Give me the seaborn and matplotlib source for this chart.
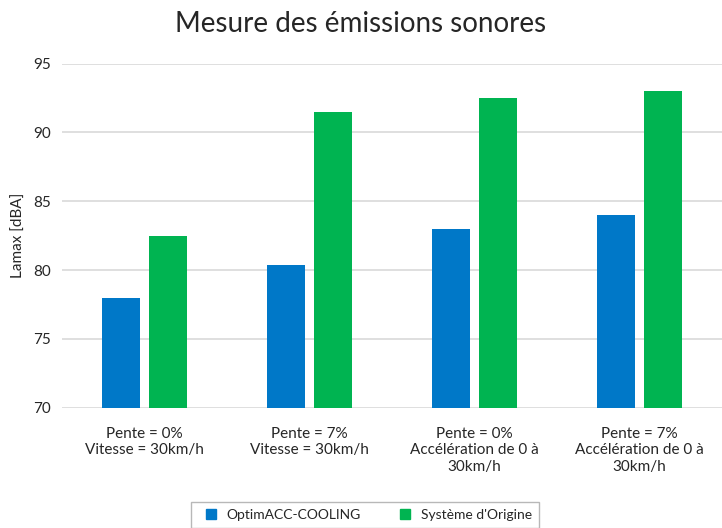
import matplotlib
matplotlib.use("Agg")
import matplotlib.pyplot as plt
import seaborn as sns
import pandas as pd
from matplotlib.lines import Line2D

categories = ["Pente = 0%\nVitesse = 30km/h",
              "Pente = 7%\nVitesse = 30km/h",
              "Pente = 0%\nAccélération de 0 à\n30km/h",
              "Pente = 7%\nAccélération de 0 à\n30km/h"]
series_names = ["OptimACC-COOLING", "Système d'Origine"]
optim_values = [78.0, 80.4, 83.0, 84.0]
origine_values = [82.5, 91.5, 92.5, 93.0]
colors = ["#0078C8", "#00B451"]

df = pd.DataFrame({
    "cat": categories * 2,
    "serie": [series_names[0]] * 4 + [series_names[1]] * 4,
    "val": optim_values + origine_values,
})

sns.set_theme(style="white")
plt.rcParams["font.family"] = ["Lato", "DejaVu Sans"]

fig = plt.figure(figsize=(7.22, 5.28), dpi=100)
ax = fig.add_axes([0.0859, 0.2278, 0.9141, 0.6516])

sns.barplot(data=df, x="cat", y="val", hue="serie", palette=colors,
            width=0.57, gap=0.21, ax=ax, legend=False, saturation=1,
            edgecolor="none")

ax.set_ylim(70, 95)
ax.set_xlim(-0.5, 3.5)
ax.set_yticks([70, 75, 80, 85, 90, 95])
ax.yaxis.grid(True, color="#D9D9D9", linewidth=1.2)
ax.set_axisbelow(True)
for s in ax.spines.values():
    s.set_visible(False)
ax.tick_params(axis="x", length=0, labelsize=11, colors="#262626", pad=14)
ax.tick_params(axis="y", length=0, labelsize=11, colors="#262626", pad=8)
ax.set_xlabel("")
ax.set_ylabel("Lamax [dBA]", fontsize=11, color="#262626", labelpad=5)

fig.text(0.5, 0.955, "Mesure des émissions sonores", ha="center", va="center",
         fontsize=20, color="#262626")

handles = [Line2D([], [], marker="s", linestyle="none", markersize=7,
                  markerfacecolor=c, markeredgecolor=c) for c in colors]
leg = fig.legend(handles, series_names, loc="center", bbox_to_anchor=(0.505, 0.025),
                 ncol=2, frameon=True, fontsize=10, handletextpad=0.1,
                 columnspacing=2.2, borderpad=0.5, fancybox=False)
leg.get_frame().set_edgecolor("#A6A6A6")
leg.get_frame().set_linewidth(1)

fig.savefig("out.png", dpi=100)
